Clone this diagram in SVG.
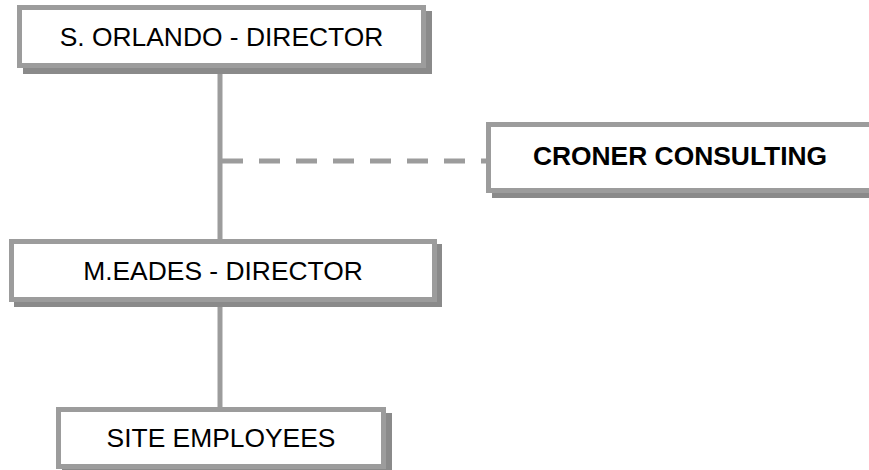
<svg xmlns="http://www.w3.org/2000/svg" width="869" height="470" viewBox="0 0 869 470">
<style>
.shadow{fill:#8a8a8a}
.box{fill:#fff;stroke:#9c9c9c;stroke-width:5}
.t{font-family:"Liberation Sans",Arial,sans-serif;font-size:26.4px;fill:#000;text-anchor:middle}
.b{font-weight:bold}
.ln{stroke:#9c9c9c;stroke-width:5;fill:none}
</style>
<rect width="869" height="470" fill="#fff"/>
<g id="connectors">
<line class="ln" x1="220" y1="68" x2="220" y2="239"/>
<line class="ln" x1="220" y1="302" x2="220" y2="407"/>
<line class="ln" x1="222" y1="161" x2="488" y2="161" stroke-dasharray="21 16"/>
</g>
<g id="orlando">
<rect class="shadow" x="23" y="11" width="409" height="63"/>
<rect class="box" x="19.5" y="7.5" width="404" height="58"/>
<text class="t" x="221.5" y="46">S. ORLANDO - DIRECTOR</text>
</g>
<g id="croner">
<rect class="shadow" x="492" y="128" width="420" height="70"/>
<rect class="box" x="488.5" y="124.5" width="420" height="66"/>
<text class="t b" x="680" y="165">CRONER CONSULTING</text>
</g>
<g id="eades">
<rect class="shadow" x="14" y="244" width="428" height="63"/>
<rect class="box" x="11.5" y="241.5" width="423" height="58"/>
<text class="t" x="223" y="280">M.EADES - DIRECTOR</text>
</g>
<g id="site">
<rect class="shadow" x="62" y="413" width="330" height="62"/>
<rect class="box" x="58.5" y="409.5" width="325" height="57"/>
<text class="t" x="221" y="447">SITE EMPLOYEES</text>
</g>
</svg>
